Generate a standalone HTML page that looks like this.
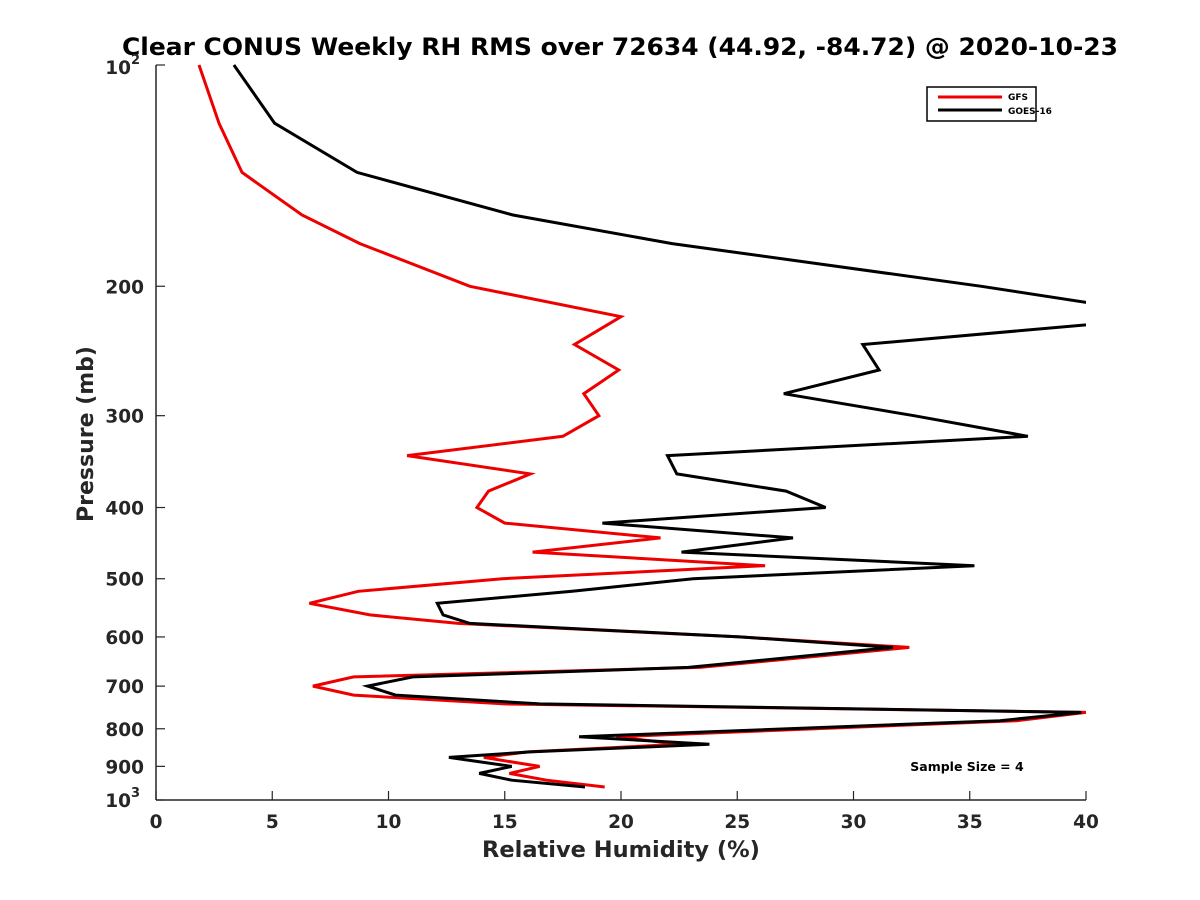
<!DOCTYPE html>
<html><head><meta charset="utf-8"><style>
body{margin:0;background:#fff;}
svg{display:block;font-family:"DejaVu Sans","Liberation Sans",sans-serif;font-weight:bold;}
</style></head><body>
<svg id="chart" width="1200" height="900" viewBox="0 0 1200 900">
<defs><clipPath id="clip"><rect x="156" y="60" width="930" height="745"/></clipPath></defs>
<text x="620" y="55" text-anchor="middle" font-size="24" textLength="996" lengthAdjust="spacingAndGlyphs" fill="#000">Clear CONUS Weekly RH RMS over 72634 (44.92, -84.72) @ 2020-10-23</text>
<g id="axes"></g>
<g id="series" clip-path="url(#clip)"></g>
<text x="621" y="857" text-anchor="middle" font-size="22.5" fill="#262626">Relative Humidity (%)</text>
<text transform="translate(93,434) rotate(-90)" text-anchor="middle" font-size="22" fill="#262626">Pressure (mb)</text>
<g>
<rect x="927" y="87" width="109" height="34" fill="#fff" stroke="#000" stroke-width="1.5"/>
<line x1="938" y1="97" x2="1002" y2="97" stroke="#e00" stroke-width="3"/>
<text x="1008" y="100" font-size="9" fill="#000">GFS</text>
<line x1="938" y1="110" x2="1002" y2="110" stroke="#000" stroke-width="3"/>
<text x="1008" y="114" font-size="9" fill="#000">GOES-16</text>
</g>
<text x="967" y="771" text-anchor="middle" font-size="12.5" fill="#000">Sample Size = 4</text>
</svg>
<script>
const pressures=[100,120,140,160,175,200,220,240,260,280,300,320,340,360,380,400,420,440,460,480,500,520,540,560,575,600,620,660,680,700,720,740,760,780,820,840,860,875,900,920,940,960];
const gfsValues=[1.85,2.71,3.7,6.28,8.77,13.5,20.0,18.0,19.9,18.4,19.05,17.5,10.8,16.1,14.3,13.8,15.0,21.7,16.2,26.2,14.9,8.7,6.6,9.2,13.0,25.1,32.4,23.4,8.5,6.75,8.5,15.0,40.0,37.0,19.8,22.5,16.0,14.1,16.5,15.2,16.8,19.3];
const goesValues=[3.35,5.1,8.65,15.35,22.2,35.5,44.0,30.4,31.1,27.0,32.6,37.5,22.0,22.4,27.1,28.8,19.2,27.4,22.6,35.2,23.1,17.9,12.1,12.35,13.5,25.1,31.7,22.9,11.05,9.1,10.3,16.5,39.8,36.3,18.2,23.8,16.1,12.6,15.3,13.9,15.3,18.45];
const xTicks=[0,5,10,15,20,25,30,35,40];
const yTicks=[200,300,400,500,600,700,800,900];
const NS='http://www.w3.org/2000/svg';
const X0=156,X1=1086,Y0=65,Y1=800;
function xs(v){return X0+(v/40)*(X1-X0);}
function ys(p){return Y0+(Math.log10(p)-2)*(Y1-Y0);}
function mk(tag,attrs,parent,text){const e=document.createElementNS(NS,tag);for(const k in attrs)e.setAttribute(k,attrs[k]);if(text!==undefined)e.textContent=text;parent.appendChild(e);return e;}
const axes=document.getElementById('axes');
let e=mk('line',{x1:X0,y1:Y0,x2:X0,y2:Y1,stroke:'#262626','stroke-width':1.5},axes);


e=mk('line',{x1:X0,y1:Y1,x2:X1,y2:Y1,stroke:'#262626','stroke-width':1.5},axes);


xTicks.forEach(v=>{
 const t=mk('line',{x1:xs(v),y1:Y1,x2:xs(v),y2:Y1-9,stroke:'#262626','stroke-width':1.2},axes);
 
 
 const l=mk('text',{x:xs(v),y:Y1+28,'text-anchor':'middle','font-size':18.5,fill:'#262626'},axes,String(v));
 
 
});
[100,1000].concat(yTicks).forEach(p=>{
 const t=mk('line',{x1:X0,y1:ys(p),x2:X0+9,y2:ys(p),stroke:'#262626','stroke-width':1.2},axes);
 
 
});
yTicks.forEach(p=>{
 const l=mk('text',{x:X0-12,y:ys(p)+7,'text-anchor':'end','font-size':18.5,fill:'#262626'},axes,String(p));
 
 
});
[[100,'2'],[1000,'3']].forEach(([p,ex])=>{
 const l=mk('text',{x:X0-25,y:ys(p)+(p===100?9:7),'text-anchor':'end','font-size':18.5,fill:'#262626'},axes,'10');
 
 
 const s=mk('text',{x:X0-25,y:ys(p)+(p===100?-1:-3),'font-size':13,fill:'#262626'},axes,ex);
 
 
});
const sg=document.getElementById('series');
function draw(vals,color,name){
 const d=vals.map((v,i)=>(i?'L':'M')+xs(v).toFixed(1)+' '+ys(pressures[i]).toFixed(1)).join(' ');
 const p=mk('path',{d:d,fill:'none',stroke:color,'stroke-width':3,'stroke-linejoin':'miter'},sg);
 
 
}
draw(gfsValues,'#e00','gfs-line');
draw(goesValues,'#000','goes16-line');
</script>
</body></html>
